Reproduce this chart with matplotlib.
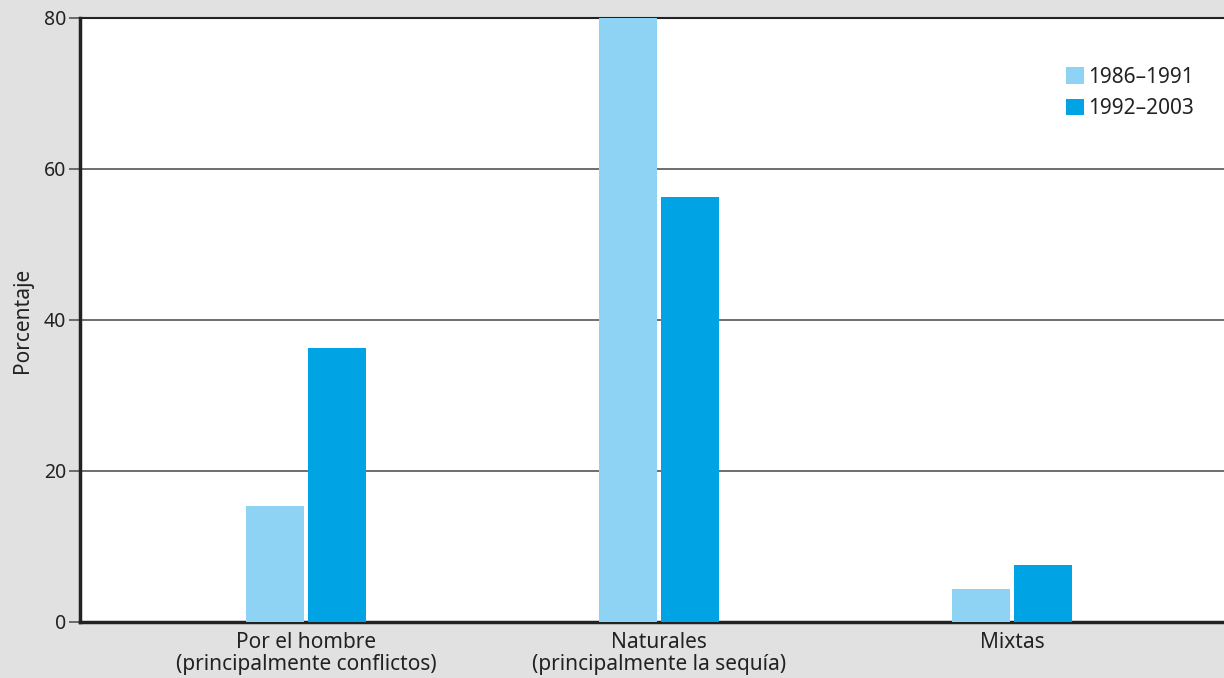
import matplotlib.pyplot as plt
import numpy as np

plt.rcParams['font.family'] = ['Noto Sans', 'DejaVu Sans']

categories = ['Por el hombre\n(principalmente conflictos)',
              'Naturales\n(principalmente la sequía)',
              'Mixtas']
series_names = ['1986–1991', '1992–2003']
vals_1986_1991 = [15.4, 81.0, 4.4]
vals_1992_2003 = [36.3, 56.3, 7.5]
y_ticks = [0, 20, 40, 60, 80]

light_blue = '#8ed3f4'
dark_blue = '#00a4e4'
bg = '#e1e1e1'
txt = '#222222'

fig = plt.figure(figsize=(12.24, 6.78), dpi=100, facecolor=bg)
ax = fig.add_axes([0.0654, 0.0826, 0.9346, 0.8909])
ax.set_facecolor('white')

x = np.arange(len(categories))
w = 0.164
ax.bar(x - 0.0876, vals_1986_1991, width=w, color=light_blue, label=series_names[0], zorder=3)
ax.bar(x + 0.0876, vals_1992_2003, width=w, color=dark_blue, label=series_names[1], zorder=3)

ax.set_xlim(-0.64, 2.6)
ax.set_ylim(0, 80)
ax.set_yticks(y_ticks)
ax.yaxis.grid(True, color='#555555', linewidth=1.2, zorder=1)
ax.set_axisbelow(True)

ax.set_xticks(x)
ax.set_xticklabels(categories, fontsize=15, color=txt, linespacing=1.05)
ax.tick_params(axis='x', length=0, pad=7)
ax.tick_params(axis='y', length=8, width=1.2, color='#555555', labelsize=14,
               labelcolor=txt, pad=2)

ax.spines['right'].set_visible(False)
ax.spines['top'].set_color(txt)
ax.spines['top'].set_linewidth(1.5)
ax.spines['left'].set_color(txt)
ax.spines['left'].set_linewidth(2.5)
ax.spines['bottom'].set_color(txt)
ax.spines['bottom'].set_linewidth(2.5)

ax.set_ylabel('Porcentaje', fontsize=15, color=txt, labelpad=8)

leg = ax.legend(loc='upper right', bbox_to_anchor=(0.99, 0.95), frameon=False,
                fontsize=15, handlelength=0.85, handleheight=0.85, handletextpad=0.2,
                labelspacing=0.5)
for t in leg.get_texts():
    t.set_color(txt)

fig.savefig('out.png', dpi=100, facecolor=bg)
